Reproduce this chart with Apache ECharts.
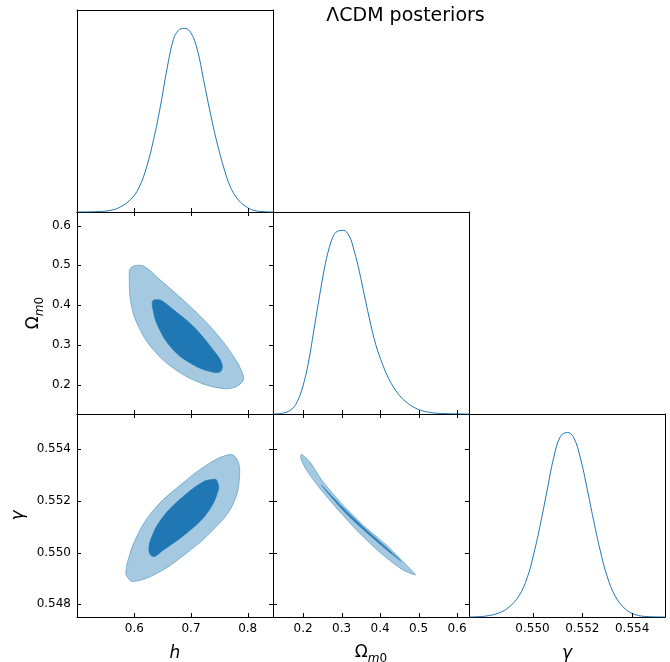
<!DOCTYPE html>
<html>
<head>
<meta charset="utf-8">
<title>ΛCDM posteriors</title>
<script src="https://cdn.jsdelivr.net/npm/echarts@6/dist/echarts.min.js"></script>
<style>
  html, body { margin: 0; padding: 0; background: #fff; }
  #main { width: 670px; height: 662px; }
</style>
</head>
<body>
<div id="main"></div>
<script>
// Tick values for each parameter
const hTicks = [0.6, 0.7, 0.8];
const omTicks = [0.2, 0.3, 0.4, 0.5, 0.6];
const gammaTicksX = [0.550, 0.552, 0.554];
const gammaTicksY = [0.548, 0.550, 0.552, 0.554];

// 1D marginal posteriors: [parameter value, density normalised to peak]
const hPosterior = [
  [0.499, 0], [0.534, 0.002], [0.558, 0.009], [0.575, 0.027], [0.593, 0.067],
  [0.608, 0.131], [0.622, 0.249], [0.634, 0.395], [0.646, 0.576], [0.658, 0.785],
  [0.669, 0.940], [0.678, 0.989], [0.688, 1.0], [0.699, 0.980], [0.711, 0.885],
  [0.722, 0.722], [0.734, 0.540], [0.746, 0.376], [0.758, 0.240], [0.769, 0.140],
  [0.781, 0.076], [0.796, 0.031], [0.811, 0.009], [0.828, 0.002], [0.845, 0]
];
const omPosterior = [
  [0.122, 0], [0.146, 0.004], [0.168, 0.022], [0.185, 0.067], [0.203, 0.177],
  [0.216, 0.304], [0.229, 0.468], [0.242, 0.632], [0.255, 0.787], [0.268, 0.905],
  [0.281, 0.978], [0.292, 0.997], [0.305, 1.0], [0.320, 0.969], [0.333, 0.887],
  [0.346, 0.778], [0.359, 0.650], [0.372, 0.523], [0.389, 0.377], [0.407, 0.268],
  [0.424, 0.186], [0.446, 0.113], [0.467, 0.067], [0.493, 0.031], [0.528, 0.009],
  [0.571, 0.002], [0.631, 0]
];
const gammaPosterior = [
  [0.54745, 0], [0.54812, 0.005], [0.54865, 0.022], [0.54905, 0.053], [0.54945, 0.113],
  [0.54979, 0.214], [0.55005, 0.342], [0.55032, 0.506], [0.55059, 0.689], [0.55085, 0.863],
  [0.55112, 0.978], [0.55140, 1.0], [0.55165, 0.973], [0.55192, 0.863], [0.55219, 0.698],
  [0.55245, 0.525], [0.55272, 0.360], [0.55299, 0.223], [0.55332, 0.113], [0.55372, 0.044],
  [0.55412, 0.013], [0.55465, 0.002], [0.55532, 0]
];

// 2D credible regions (95% and 68%) as closed contours
const hOm95 = [
  [0.610, 0.500], [0.622, 0.493], [0.645, 0.464], [0.692, 0.405], [0.739, 0.338],
  [0.775, 0.271], [0.792, 0.224], [0.791, 0.208], [0.775, 0.192], [0.751, 0.191],
  [0.710, 0.208], [0.669, 0.241], [0.634, 0.287], [0.610, 0.338], [0.595, 0.397],
  [0.591, 0.472], [0.594, 0.494]
];
const hOm68 = [
  [0.640, 0.413], [0.648, 0.411], [0.669, 0.388], [0.704, 0.346], [0.739, 0.287],
  [0.754, 0.254], [0.752, 0.233], [0.734, 0.233], [0.704, 0.250], [0.669, 0.287],
  [0.642, 0.346], [0.632, 0.397], [0.633, 0.411]
];
const hGamma95 = [
  [0.587, 0.54907], [0.598, 0.54888], [0.640, 0.54920], [0.692, 0.54998], [0.739, 0.55088],
  [0.775, 0.55191], [0.786, 0.55313], [0.778, 0.55371], [0.763, 0.55377], [0.728, 0.55339],
  [0.681, 0.55261], [0.634, 0.55165], [0.604, 0.55062], [0.589, 0.54972], [0.585, 0.54920]
];
const hGamma68 = [
  [0.745, 0.55281], [0.748, 0.55242], [0.728, 0.55152], [0.692, 0.55075], [0.651, 0.55010],
  [0.634, 0.54985], [0.626, 0.55004], [0.631, 0.55062], [0.651, 0.55139], [0.686, 0.55216],
  [0.722, 0.55274], [0.739, 0.55283]
];
const omGamma95 = [
  [0.1959, 0.55380], [0.2174, 0.55351], [0.2518, 0.55274], [0.3036, 0.55184], [0.3554, 0.55107],
  [0.4161, 0.55030], [0.4679, 0.54953], [0.4920, 0.54914], [0.4591, 0.54933], [0.4073, 0.54991],
  [0.3469, 0.55075], [0.2951, 0.55158], [0.2433, 0.55249], [0.2088, 0.55319], [0.1940, 0.55364]
];
const omGamma68 = [
  [0.2477, 0.55261], [0.3036, 0.55174], [0.3554, 0.55100], [0.4161, 0.55020], [0.4549, 0.54966],
  [0.4161, 0.55012], [0.3554, 0.55090], [0.3036, 0.55164]
];

const FONT = 'DejaVu Sans';
const C0 = '#1f77b4';
const FILL95 = 'rgba(31,119,180,0.4)';
const EDGE95 = 'rgba(31,119,180,0.55)';
const FILL68 = '#1f77b4';
const TICK_LEN = 4;

// Parameter axes: ranges, ticks, label formatting and names
const params = [
  { xmin: 0.4988, xmax: 0.8447, ymin: 0.4988, ymax: 0.8447, xticks: hTicks, yticks: hTicks, dec: 1,
    name: '{i|h}', xgap: 25, ygap: 30 },
  { xmin: 0.122, xmax: 0.631, ymin: 0.126, ymax: 0.634, xticks: omTicks, yticks: omTicks, dec: 1,
    name: '{r|Ω}{s|m}{z|0}', xgap: 24, ygap: 31 },
  { xmin: 0.54745, xmax: 0.55532, ymin: 0.54751, ymax: 0.55536, xticks: gammaTicksX, yticks: gammaTicksY, dec: 3,
    name: '{i|γ}', xgap: 25, ygap: 46 }
];

const nameRich = {
  r: { fontSize: 17, fontFamily: FONT, color: '#000', lineHeight: 24, verticalAlign: 'middle' },
  i: { fontSize: 17, fontFamily: FONT, fontStyle: 'italic', color: '#000', lineHeight: 24, verticalAlign: 'middle' },
  s: { fontSize: 12, fontFamily: FONT, fontStyle: 'italic', color: '#000', lineHeight: 12, verticalAlign: 'bottom' },
  z: { fontSize: 12, fontFamily: FONT, color: '#000', lineHeight: 12, verticalAlign: 'bottom' }
};

const colLeft = [77, 273, 469];
const rowTop = [10, 212, 414];
const PW = 196;
const PH = [202, 202, 203];

const panels = [[0, 0], [1, 0], [1, 1], [2, 0], [2, 1], [2, 2]];

const grids = [], xAxes = [], yAxes = [];
const dataAxis = []; // [xAxisIndex, yAxisIndex] used by the series of each panel
const tickMarks = []; // per panel: [x, y, side] with side 0=bottom 1=top 2=left 3=right

const spine = () => ({ show: true, onZero: false, lineStyle: { color: '#000', width: 1 } });
const labelsAt = (values, dec) => ({
  show: true, customValues: values, fontSize: 12, fontFamily: FONT, color: '#000', margin: 6,
  formatter: (v) => Number(v).toFixed(dec)
});
const hiddenAxis = (g, min, max) => ({ type: 'value', gridIndex: g, min, max, show: false });
const gridAt = (r, c) => ({
  left: colLeft[c], top: rowTop[r], width: PW, height: PH[r], containLabel: false, outerBoundsMode: 'none'
});
const frameAxis = (g, pos, min, max) => ({
  type: 'value', gridIndex: g, position: pos, min, max,
  axisLine: spine(), axisTick: { show: false }, axisLabel: { show: false }, splitLine: { show: false }
});

panels.forEach(([r, c]) => {
  const g = grids.length;
  grids.push(gridAt(r, c));
  const px = params[c];
  const diag = r === c;
  const py = diag ? null : params[r];
  const ymin = diag ? 0 : py.ymin, ymax = diag ? 1.1 : py.ymax;
  dataAxis.push([xAxes.length, yAxes.length]);

  // panel frame
  xAxes.push(frameAxis(g, 'bottom', px.xmin, px.xmax));
  xAxes.push(frameAxis(g, 'top', px.xmin, px.xmax));
  yAxes.push(frameAxis(g, 'left', ymin, ymax));
  yAxes.push(frameAxis(g, 'right', ymin, ymax));

  // inward tick marks: bottom on every panel, the other sides on the 2D panels
  const marks = px.xticks.map((v) => [v, ymin, 0]);
  if (!diag) {
    px.xticks.forEach((v) => marks.push([v, ymax, 1]));
    py.yticks.forEach((v) => marks.push([px.xmin, v, 2]));
    py.yticks.forEach((v) => marks.push([px.xmax, v, 3]));
  }
  tickMarks.push(marks);

  // tick labels and parameter names on the outer edges of the triangle
  const labelX = r === 2;
  const labelY = c === 0 && !diag;
  if (labelX || labelY) {
    const gl = grids.length;
    grids.push(gridAt(r, c));
    xAxes.push(labelX ? {
      type: 'value', gridIndex: gl, position: 'bottom', min: px.xmin, max: px.xmax,
      axisLine: { show: false }, axisTick: { show: false }, axisLabel: labelsAt(px.xticks, px.dec),
      splitLine: { show: false },
      name: px.name, nameLocation: 'middle', nameGap: px.xgap, nameTextStyle: { rich: nameRich }
    } : hiddenAxis(gl, px.xmin, px.xmax));
    yAxes.push(labelY ? {
      type: 'value', gridIndex: gl, position: 'left', min: py.ymin, max: py.ymax,
      axisLine: { show: false }, axisTick: { show: false }, axisLabel: labelsAt(py.yticks, py.dec),
      splitLine: { show: false },
      name: py.name, nameLocation: 'middle', nameGap: py.ygap, nameTextStyle: { rich: nameRich }
    } : hiddenAxis(gl, 0, 1.1));
  }
});

function marginal(p, data) {
  return {
    type: 'line', xAxisIndex: dataAxis[p][0], yAxisIndex: dataAxis[p][1], data,
    showSymbol: false, smooth: 0.4,
    lineStyle: { color: C0, width: 1 }, silent: true, z: 3
  };
}

function contours(p, rings) {
  return {
    type: 'custom', xAxisIndex: dataAxis[p][0], yAxisIndex: dataAxis[p][1],
    data: rings.map((ring) => ({ value: ring.pts[0] })),
    silent: true, z: 3,
    renderItem(params, api) {
      const ring = rings[params.dataIndex];
      const points = ring.pts.map((pt) => api.coord(pt));
      return {
        type: 'polygon',
        shape: { points, smooth: ring.smooth },
        style: { fill: ring.fill, stroke: ring.stroke, lineWidth: 0.8 }
      };
    }
  };
}

// Short tick lines pointing into the panel from its edge
function ticks(p) {
  const dir = [[0, -1], [0, 1], [1, 0], [-1, 0]];
  return {
    type: 'custom', xAxisIndex: dataAxis[p][0], yAxisIndex: dataAxis[p][1],
    data: tickMarks[p], encode: { x: 0, y: 1 },
    clip: false, silent: true, z: 10,
    renderItem(params, api) {
      const pt = api.coord([api.value(0), api.value(1)]);
      const d = dir[api.value(2)];
      const vertical = d[0] === 0;
      const x = vertical ? Math.round(pt[0]) + 0.5 : Math.round(pt[0]);
      const y = vertical ? Math.round(pt[1]) : Math.round(pt[1]) + 0.5;
      return {
        type: 'line',
        shape: { x1: x, y1: y, x2: x + d[0] * TICK_LEN, y2: y + d[1] * TICK_LEN },
        style: { stroke: '#000', lineWidth: 1 }
      };
    }
  };
}

const series = [
  marginal(0, hPosterior),
  contours(1, [
    { pts: hOm95, fill: FILL95, stroke: EDGE95, smooth: 0.4 },
    { pts: hOm68, fill: FILL68, stroke: FILL68, smooth: 0.4 }
  ]),
  marginal(2, omPosterior),
  contours(3, [
    { pts: hGamma95, fill: FILL95, stroke: EDGE95, smooth: 0.4 },
    { pts: hGamma68, fill: FILL68, stroke: FILL68, smooth: 0.4 }
  ]),
  contours(4, [
    { pts: omGamma95, fill: FILL95, stroke: EDGE95, smooth: 0.2 },
    { pts: omGamma68, fill: 'rgba(31,119,180,0.85)', stroke: 'rgba(31,119,180,0.6)', smooth: 0.3 }
  ]),
  marginal(5, gammaPosterior)
].concat(panels.map((_, p) => ticks(p)));

const chart = echarts.init(document.getElementById('main'), null, { renderer: 'canvas' });
chart.setOption({
  animation: false,
  backgroundColor: '#fff',
  graphic: [{
    type: 'text', x: 405.5, y: 7,
    style: {
      text: 'ΛCDM posteriors', textAlign: 'center', textVerticalAlign: 'top',
      fontSize: 19, fontFamily: FONT, fill: '#000'
    }
  }],
  grid: grids,
  xAxis: xAxes,
  yAxis: yAxes,
  series
});
</script>
</body>
</html>
